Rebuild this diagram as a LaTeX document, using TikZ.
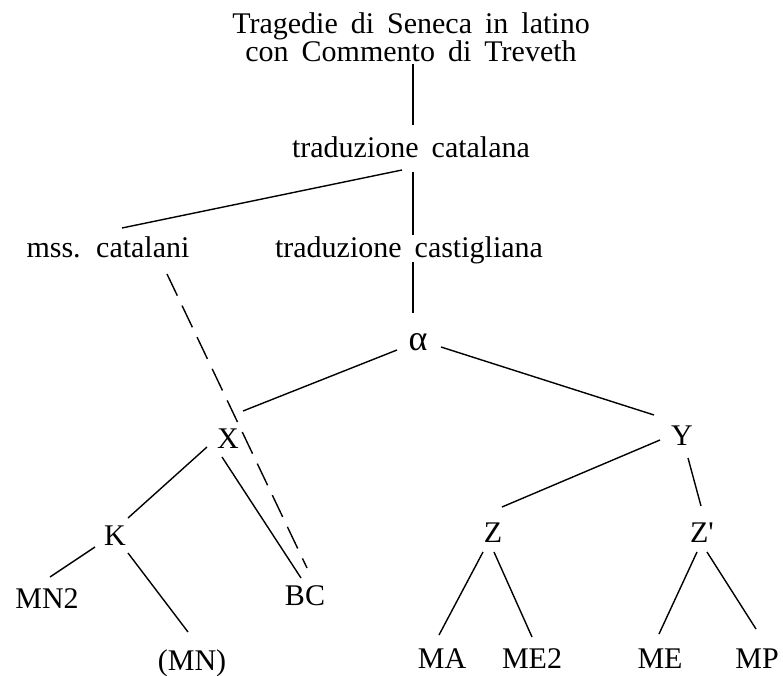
\documentclass[tikz,border=0pt]{standalone}
\usepackage{fontspec}
\setmainfont{Liberation Serif}
\newcommand{\lblfont}{\fontsize{30}{27}\selectfont\spaceskip=13pt plus 2pt minus 1pt\relax}
\begin{document}
\begin{tikzpicture}[x=1pt,y=-1pt,
  lbl/.style={inner sep=0pt,anchor=base,font=\lblfont},
  edge/.style={line width=1.4pt},
  dedge/.style={line width=1.4pt,dash pattern=on 24pt off 11pt}]
\useasboundingbox (0,0) rectangle (783,676);
\node[inner sep=0pt,anchor=north,align=center,font=\lblfont] (title) at (411,12)
  {Tragedie di Seneca in latino\\con Commento di Treveth};
\node[lbl] (tc) at (411,158) {traduzione catalana};
\node[lbl] (mc) at (108,257) {mss. catalani};
\node[lbl] (tcast) at (409,257) {traduzione castigliana};
\node[lbl,font=\fontsize{36}{36}\selectfont] (al) at (418,350) {α};
\node[lbl] (X) at (228,448) {X};
\node[lbl] (Y) at (682,445) {Y};
\node[lbl] (K) at (115,545) {K};
\node[lbl] (MN2) at (47,608) {MN2};
\node[lbl] (MN) at (192,670) {(MN)};
\node[lbl] (BC) at (305,605) {BC};
\node[lbl] (Z) at (493,542) {Z};
\node[lbl] (Zp) at (702,542) {Z\textquotesingle};
\node[lbl] (MA) at (442,668) {MA};
\node[lbl] (ME2) at (532,668) {ME2};
\node[lbl] (ME) at (660,668) {ME};
\node[lbl] (MP) at (757,668) {MP};
\draw[edge] ([shift={(2,52)}]title.north) -- ([shift={(2,-33)}]tc.base);
\draw[edge] ([shift={(-9,12)}]tc.base) -- ([shift={(14,-29)}]mc.base);
\draw[edge] ([shift={(2,14)}]tc.base) -- ([shift={(4,-22)}]tcast.base);
\draw[edge] ([shift={(4,5)}]tcast.base) -- ([shift={(-5,-37)}]al.base);
\draw[edge] ([shift={(-21,0)}]al.base) -- ([shift={(15,-37)}]X.base);
\draw[edge] ([shift={(23,-3)}]al.base) -- ([shift={(-28,-30)}]Y.base);
\draw[dedge] ([shift={(59,17)}]mc.base) -- ([shift={(2,-37)}]BC.base);
\draw[edge] ([shift={(-6,9)}]X.base) -- ([shift={(-4,-27)}]BC.base);
\draw[edge] ([shift={(-21,-1)}]X.base) -- ([shift={(13,-27)}]K.base);
\draw[edge] ([shift={(-20,2)}]K.base) -- ([shift={(3,-31)}]MN2.base);
\draw[edge] ([shift={(13,8)}]K.base) -- ([shift={(-4,-38)}]MN.base);
\draw[edge] ([shift={(-22,-5)}]Y.base) -- ([shift={(9,-35)}]Z.base);
\draw[edge] ([shift={(6,13)}]Y.base) -- ([shift={(-1,-36)}]Zp.base);
\draw[edge] ([shift={(-10,10)}]Z.base) -- ([shift={(-3,-33)}]MA.base);
\draw[edge] ([shift={(1,10)}]Z.base) -- ([shift={(0,-31)}]ME2.base);
\draw[edge] ([shift={(-5,10)}]Zp.base) -- ([shift={(-1,-34)}]ME.base);
\draw[edge] ([shift={(5,10)}]Zp.base) -- ([shift={(-1,-39)}]MP.base);
\end{tikzpicture}
\end{document}
